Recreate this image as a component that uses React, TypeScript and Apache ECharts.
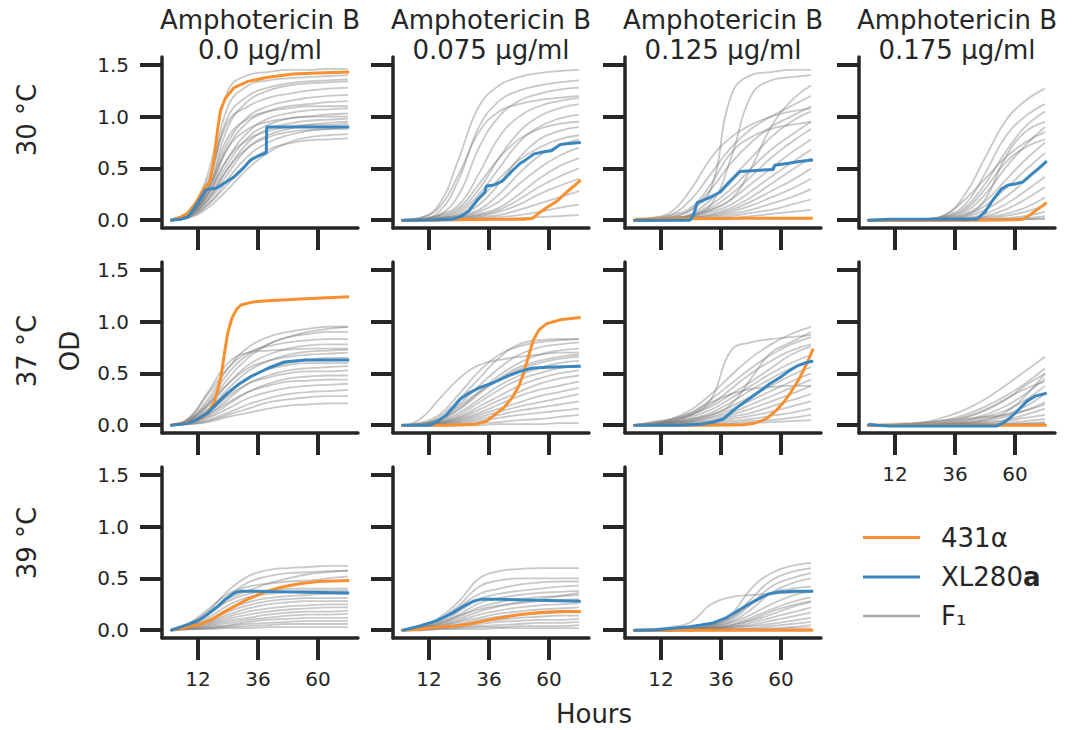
import React, { useEffect, useRef } from "react";
import * as echarts from "echarts";

const FONT = "DejaVu Sans";
const INK = "#262626";
const ORANGE = "#f8902f";
const BLUE = "#3a86bf";

const HOURS = [1, 8, 16, 24, 32, 40, 48, 56, 64, 72];
const TEMPS = ["30 °C", "37 °C", "39 °C"];
const DOSES = ["0.0", "0.075", "0.125", "0.175"];
const X_TICKS = [12, 36, 60];
const Y_TICKS = [0, 0.5, 1.0, 1.5];
const LEGEND_LABELS = ["431α", "XL280{b|a}", "F₁"];

// ---- F1 segregant curves (OD at HOURS) ----
const F1_30_000 = [
  [0, .08, .45, 1.25, 1.4, 1.43, 1.45, 1.45, 1.46, 1.46],
  [0, .06, .35, 1.1, 1.3, 1.35, 1.37, 1.38, 1.39, 1.40],
  [0, .05, .3, .9, 1.15, 1.25, 1.3, 1.32, 1.33, 1.34],
  [0, .07, .4, .95, 1.1, 1.18, 1.22, 1.25, 1.27, 1.28],
  [0, .05, .28, .75, 1.0, 1.1, 1.15, 1.18, 1.2, 1.21],
  [0, .04, .25, .7, .95, 1.05, 1.1, 1.12, 1.14, 1.15],
  [0, .06, .3, .8, .98, 1.05, 1.08, 1.1, 1.1, 1.1],
  [0, .05, .25, .6, .85, .98, 1.03, 1.06, 1.07, 1.08],
  [0, .04, .22, .55, .8, .92, .98, 1.0, 1.02, 1.03],
  [0, .05, .3, .7, .88, .95, .98, 1.0, 1.0, 1.0],
  [0, .04, .2, .5, .75, .88, .93, .96, .97, .98],
  [0, .03, .18, .45, .7, .82, .88, .92, .94, .95],
  [0, .05, .25, .6, .78, .86, .9, .92, .92, .93],
  [0, .03, .15, .4, .62, .75, .82, .86, .88, .9],
  [0, .04, .2, .5, .7, .8, .85, .87, .88, .88],
  [0, .02, .12, .3, .5, .65, .75, .8, .82, .83],
  [0, .03, .15, .35, .55, .68, .74, .77, .78, .79],
  [0, .06, .35, 1.0, 1.2, 1.28, 1.32, 1.34, 1.35, 1.36],
];
const F1_30_075 = [
  [0, .02, .15, .6, 1.1, 1.3, 1.38, 1.42, 1.44, 1.45],
  [0, .01, .08, .4, .9, 1.15, 1.25, 1.3, 1.33, 1.35],
  [0, .01, .05, .25, .7, 1.0, 1.15, 1.22, 1.26, 1.28],
  [0, .01, .05, .15, .45, .8, 1.0, 1.1, 1.15, 1.18],
  [0, .01, .03, .1, .3, .6, .85, 1.0, 1.08, 1.12],
  [0, 0, .02, .08, .25, .5, .75, .9, .98, 1.02],
  [0, .01, .04, .12, .35, .6, .78, .88, .93, .95],
  [0, 0, .02, .05, .15, .35, .6, .78, .86, .9],
  [0, 0, .02, .06, .2, .4, .58, .7, .78, .82],
  [0, 0, .01, .04, .1, .25, .45, .62, .72, .78],
  [0, 0, .01, .03, .08, .18, .35, .5, .62, .7],
  [0, 0, .01, .03, .06, .12, .25, .4, .52, .6],
  [0, 0, .01, .02, .05, .1, .2, .32, .42, .5],
  [0, 0, 0, .02, .04, .08, .15, .25, .33, .4],
  [0, 0, 0, .01, .03, .05, .1, .16, .22, .28],
  [0, 0, 0, .01, .02, .03, .05, .08, .12, .15],
  [0, .02, .12, .45, .85, 1.05, 1.12, 1.16, 1.18, 1.2],
  [0, 0, 0, 0, .01, .01, .02, .03, .04, .05],
];
const F1_30_125 = [
  [0, .01, .03, .1, .3, 1.2, 1.4, 1.43, 1.45, 1.45],
  [0, .01, .02, .05, .15, .6, 1.2, 1.35, 1.38, 1.4],
  [0, .02, .08, .3, .6, .8, .92, 1.0, 1.05, 1.08],
  [0, .01, .05, .2, .45, .7, .88, 1.0, 1.1, 1.2],
  [0, .01, .03, .1, .3, .55, .75, .9, 1.0, 1.1],
  [0, .01, .02, .06, .2, .4, .6, .8, .95, 1.05],
  [0, 0, .02, .05, .15, .3, .5, .68, .82, .95],
  [0, 0, .01, .04, .12, .25, .42, .6, .75, .88],
  [0, 0, .01, .03, .1, .2, .35, .5, .65, .78],
  [0, 0, .01, .03, .08, .15, .28, .42, .55, .68],
  [0, 0, .01, .02, .06, .12, .22, .35, .48, .6],
  [0, 0, .01, .02, .05, .1, .18, .28, .38, .5],
  [0, 0, 0, .02, .04, .08, .14, .22, .3, .4],
  [0, 0, 0, .01, .03, .06, .1, .16, .22, .3],
  [0, 0, 0, .01, .02, .04, .07, .1, .15, .2],
  [0, 0, 0, .01, .01, .02, .04, .06, .08, .1],
  [0, .01, .02, .04, .1, .2, .5, .9, 1.15, 1.3],
  [0, .02, .05, .12, .35, .65, .8, .88, .92, .95],
];
const F1_30_175 = [
  [0, 0, 0, .01, .05, .25, .6, .95, 1.15, 1.27],
  [0, 0, 0, .01, .04, .15, .45, .8, 1.0, 1.12],
  [0, 0, 0, 0, .03, .12, .35, .65, .9, 1.05],
  [0, 0, 0, .01, .05, .2, .4, .6, .75, .85],
  [0, 0, 0, 0, .02, .08, .25, .5, .72, .9],
  [0, 0, 0, 0, .02, .06, .18, .38, .58, .75],
  [0, 0, 0, 0, .01, .05, .14, .3, .48, .65],
  [0, 0, 0, 0, .01, .03, .1, .22, .38, .55],
  [0, 0, 0, 0, .01, .02, .06, .15, .28, .42],
  [0, 0, 0, 0, 0, .02, .04, .1, .2, .32],
  [0, 0, 0, 0, 0, .01, .03, .06, .12, .22],
  [0, 0, 0, 0, 0, .01, .02, .04, .08, .14],
  [0, 0, 0, 0, 0, 0, .01, .02, .04, .08],
  [0, 0, 0, 0, 0, 0, .01, .01, .02, .04],
  [0, 0, 0, 0, 0, 0, 0, .01, .01, .02],
  [0, 0, 0, .01, .03, .1, .3, .55, .7, .78],
  [0, 0, 0, 0, 0, 0, 0, 0, .01, .01],
  [0, 0, 0, 0, .01, .04, .2, .6, .85, .95],
];
const F1_37_000 = [
  [0, .05, .25, .55, .75, .85, .9, .93, .95, .95],
  [0, .04, .2, .45, .65, .78, .85, .88, .9, .9],
  [0, .06, .3, .55, .7, .76, .8, .82, .83, .83],
  [0, .04, .18, .4, .58, .68, .74, .77, .78, .78],
  [0, .03, .15, .35, .52, .62, .68, .71, .72, .73],
  [0, .04, .2, .4, .55, .62, .66, .68, .69, .7],
  [0, .03, .12, .3, .45, .55, .6, .63, .65, .65],
  [0, .03, .15, .32, .46, .54, .58, .6, .6, .6],
  [0, .02, .1, .25, .4, .48, .53, .55, .56, .57],
  [0, .03, .12, .28, .4, .46, .5, .52, .52, .53],
  [0, .02, .08, .2, .32, .4, .45, .47, .48, .48],
  [0, .02, .1, .22, .32, .38, .42, .43, .44, .44],
  [0, .02, .07, .16, .26, .32, .36, .38, .39, .4],
  [0, .01, .05, .12, .2, .26, .3, .32, .33, .34],
  [0, .01, .04, .1, .16, .22, .25, .27, .28, .28],
  [0, .01, .03, .08, .12, .16, .19, .2, .21, .21],
  [0, .06, .32, .6, .7, .72, .73, .74, .74, .74],
  [0, .05, .22, .5, .68, .78, .85, .9, .93, .95],
];
const F1_37_075 = [
  [0, .05, .25, .45, .58, .63, .66, .68, .7, .7],
  [0, .01, .08, .25, .45, .65, .78, .82, .83, .83],
  [0, .01, .06, .2, .38, .55, .68, .75, .78, .8],
  [0, .01, .05, .16, .32, .48, .6, .68, .72, .74],
  [0, .01, .06, .18, .32, .44, .54, .6, .64, .66],
  [0, 0, .04, .12, .25, .38, .48, .55, .6, .62],
  [0, 0, .03, .1, .22, .34, .44, .5, .55, .58],
  [0, 0, .03, .08, .18, .28, .38, .45, .5, .53],
  [0, 0, .02, .07, .15, .24, .32, .4, .45, .48],
  [0, 0, .02, .06, .12, .2, .28, .34, .38, .42],
  [0, 0, .02, .05, .1, .16, .22, .28, .32, .36],
  [0, 0, .01, .04, .08, .13, .18, .22, .26, .3],
  [0, 0, .01, .03, .06, .1, .14, .17, .2, .23],
  [0, 0, .01, .02, .04, .07, .1, .12, .14, .16],
  [0, 0, 0, .01, .02, .03, .05, .06, .08, .1],
  [0, 0, 0, 0, 0, .01, .01, .01, .02, .02],
  [0, .02, .1, .3, .52, .68, .76, .8, .82, .83],
  [0, .01, .05, .15, .3, .45, .56, .62, .66, .68],
];
const F1_37_125 = [
  [0, .01, .04, .1, .25, .72, .8, .83, .85, .87],
  [0, .02, .06, .15, .3, .48, .65, .78, .88, .95],
  [0, .01, .05, .12, .25, .4, .55, .68, .78, .85],
  [0, .01, .04, .1, .2, .35, .5, .62, .72, .78],
  [0, .02, .05, .1, .18, .3, .42, .55, .68, .76],
  [0, .01, .03, .08, .15, .26, .38, .5, .6, .68],
  [0, .01, .03, .06, .12, .22, .34, .45, .55, .62],
  [0, .01, .02, .05, .1, .18, .28, .38, .48, .56],
  [0, 0, .02, .04, .08, .15, .24, .33, .42, .5],
  [0, 0, .02, .04, .07, .12, .2, .28, .36, .44],
  [0, 0, .01, .03, .05, .1, .16, .23, .3, .38],
  [0, 0, .01, .02, .04, .08, .12, .18, .24, .3],
  [0, 0, .01, .02, .03, .06, .09, .13, .18, .23],
  [0, 0, 0, .01, .02, .04, .06, .09, .12, .16],
  [0, 0, 0, .01, .01, .02, .04, .05, .07, .1],
  [0, 0, 0, 0, .01, .01, .02, .03, .04, .05],
  [0, .03, .06, .12, .22, .3, .35, .37, .38, .38],
  [0, .01, .03, .06, .1, .2, .45, .7, .8, .9],
];
const F1_37_175 = [
  [0, 0, .01, .03, .08, .15, .25, .38, .52, .66],
  [0, 0, .01, .02, .05, .1, .18, .28, .4, .55],
  [0, 0, 0, .01, .03, .07, .14, .24, .38, .5],
  [0, 0, 0, .01, .02, .05, .1, .18, .3, .45],
  [0, 0, 0, 0, .02, .04, .08, .14, .24, .38],
  [0, 0, 0, 0, .01, .03, .06, .1, .18, .3],
  [0, 0, 0, 0, .01, .02, .04, .08, .14, .22],
  [0, 0, 0, 0, .01, .02, .03, .05, .1, .16],
  [0, 0, 0, 0, 0, .01, .02, .04, .07, .1],
  [0, 0, 0, 0, 0, .01, .01, .02, .04, .06],
  [0, 0, 0, 0, 0, 0, .01, .01, .02, .03],
  [0, 0, 0, 0, 0, 0, 0, .01, .01, .02],
  [0, .01, .02, .03, .05, .08, .15, .25, .35, .42],
  [0, 0, 0, 0, 0, 0, 0, 0, .01, .01],
  [0, 0, 0, 0, .01, .02, .05, .12, .28, .5],
  [0, 0, .01, .02, .04, .06, .08, .1, .14, .2],
];
const F1_39_000 = [
  [0, .06, .18, .38, .52, .58, .6, .61, .62, .62],
  [0, .05, .15, .32, .46, .52, .55, .56, .57, .57],
  [0, .06, .2, .35, .42, .45, .47, .48, .5, .52],
  [0, .05, .15, .28, .35, .38, .4, .4, .4, .4],
  [0, .04, .12, .24, .32, .35, .37, .38, .38, .38],
  [0, .04, .1, .2, .27, .31, .33, .34, .35, .35],
  [0, .03, .09, .18, .24, .28, .3, .31, .31, .31],
  [0, .03, .08, .15, .21, .25, .27, .28, .28, .28],
  [0, .03, .07, .13, .18, .21, .23, .24, .25, .25],
  [0, .02, .06, .11, .15, .18, .2, .21, .22, .22],
  [0, .02, .05, .09, .12, .15, .17, .18, .18, .19],
  [0, .02, .04, .07, .1, .12, .14, .15, .15, .16],
  [0, .01, .03, .05, .08, .1, .11, .12, .12, .12],
  [0, .01, .02, .04, .06, .07, .08, .09, .09, .09],
  [0, .01, .02, .03, .04, .05, .06, .06, .06, .06],
  [0, .01, .01, .02, .02, .03, .03, .03, .03, .03],
  [0, .05, .16, .3, .38, .45, .5, .54, .56, .58],
];
const F1_39_075 = [
  [0, .03, .12, .28, .5, .57, .59, .6, .6, .6],
  [0, .03, .1, .24, .42, .48, .5, .5, .5, .5],
  [0, .03, .1, .22, .35, .4, .44, .46, .47, .47],
  [0, .02, .08, .18, .3, .35, .38, .4, .42, .43],
  [0, .02, .07, .15, .26, .31, .34, .36, .37, .38],
  [0, .02, .06, .13, .22, .27, .3, .32, .33, .34],
  [0, .02, .05, .11, .18, .23, .26, .28, .29, .3],
  [0, .01, .04, .09, .15, .19, .22, .24, .25, .26],
  [0, .01, .04, .08, .12, .16, .18, .2, .21, .22],
  [0, .01, .03, .06, .1, .13, .15, .16, .17, .18],
  [0, .01, .03, .05, .08, .1, .12, .13, .14, .14],
  [0, .01, .02, .04, .06, .08, .09, .1, .1, .11],
  [0, .01, .02, .03, .04, .05, .06, .07, .07, .08],
  [0, 0, .01, .02, .03, .03, .04, .04, .04, .05],
  [0, 0, .01, .01, .01, .02, .02, .02, .02, .02],
  [0, .02, .06, .14, .2, .24, .27, .3, .33, .36],
];
const F1_39_125 = [
  [0, 0, .01, .02, .05, .15, .4, .55, .62, .65],
  [0, 0, .01, .02, .04, .12, .3, .48, .56, .6],
  [0, 0, .01, .02, .04, .1, .25, .42, .5, .55],
  [0, 0, 0, .01, .03, .08, .2, .36, .45, .5],
  [0, .01, .03, .08, .25, .32, .34, .35, .36, .37],
  [0, 0, 0, .01, .03, .07, .15, .25, .33, .38],
  [0, 0, 0, .01, .02, .05, .12, .2, .27, .32],
  [0, 0, 0, .01, .02, .04, .09, .15, .22, .27],
  [0, 0, 0, .01, .02, .03, .07, .12, .17, .22],
  [0, 0, 0, 0, .01, .03, .05, .09, .13, .17],
  [0, 0, 0, 0, .01, .02, .04, .06, .09, .12],
  [0, 0, 0, 0, .01, .01, .02, .04, .06, .08],
  [0, 0, 0, 0, 0, .01, .01, .02, .03, .05],
  [0, 0, 0, 0, 0, 0, .01, .01, .02, .02],
  [0, 0, .01, .02, .05, .12, .25, .36, .4, .42],
  [0, 0, 0, .01, .02, .05, .1, .18, .24, .28],
];

// ---- parental strains: [hour, OD] ----
const P431_30_000 = [[1, 0], [5, .03], [8, .07], [11, .16], [14.5, .31], [16, .35], [16.8, .37], [18.5, .61], [20, .9], [21, 1.06], [23, 1.18], [26.5, 1.28], [32, 1.34], [40, 1.38], [50, 1.41], [60, 1.42], [72.5, 1.43]];
const PXL_30_000 = [[1, 0], [5, .01], [8, .03], [12, .17], [15, .29], [16, .3], [19.5, .31], [22, .35], [26.5, .42], [30, .5], [33, .58], [36, .62], [39.3, .65], [39.5, .9], [72.5, .9]];
const P431_30_075 = [[1.5, 0], [20, .005], [40, .01], [50, .01], [53.5, .02], [56, .07], [59, .12], [63, .18], [67, .27], [70, .33], [72.7, .39]];
const PXL_30_075 = [[1.5, 0], [15, .005], [21.5, .01], [25, .04], [28, .09], [31.5, .2], [34.3, .27], [35, .33], [38, .34], [41.5, .38], [45, .47], [48.5, .55], [50, .57], [54, .64], [58, .66], [61, .67], [64.5, .73], [68, .74], [72.7, .75]];
const P431_30_125 = [[1.5, .01], [20, .015], [45, .02], [72.7, .02]];
const PXL_30_125 = [[1.6, 0], [23.6, 0], [25, .05], [26.5, .17], [28.5, .19], [31.6, .22], [35.6, .27], [39.5, .37], [43.6, .47], [50, .48], [56.9, .49], [57.5, .53], [63, .55], [68, .57], [72.8, .58]];
const P431_30_175 = [[1.3, 0], [40, 0], [60, .005], [63, .01], [66, .05], [68.7, .1], [72.7, .17]];
const PXL_30_175 = [[1.3, 0], [10, .01], [44.7, .01], [48, .08], [51.3, .2], [54.5, .3], [57.3, .34], [60, .35], [63.2, .37], [66, .43], [69.5, .5], [72.7, .57]];
const P431_37_000 = [[1.2, 0], [8, .03], [13.2, .07], [16, .12], [18.5, .22], [20, .35], [21.2, .47], [22.5, .68], [23.9, .89], [25.5, 1.03], [27.5, 1.12], [29.2, 1.16], [34, 1.19], [40, 1.2], [55, 1.22], [72.5, 1.24]];
const PXL_37_000 = [[1.2, 0], [7.9, .02], [12, .06], [15.9, .12], [20, .22], [23.9, .31], [28, .39], [33.2, .47], [40, .55], [46.5, .61], [55, .63], [72.5, .63]];
const P431_37_075 = [[1.5, 0], [20, 0], [31, .01], [35, .04], [37.7, .09], [42, .17], [45.7, .28], [48, .38], [49.8, .5], [52, .68], [53.7, .82], [56, .92], [59.1, .98], [65, 1.02], [72.7, 1.04]];
const PXL_37_075 = [[1.5, 0], [12.4, 0], [15, .03], [19, .1], [22, .18], [24.4, .25], [28, .31], [32, .36], [37.7, .41], [43, .47], [48.4, .52], [53, .55], [59, .56], [72.7, .57]];
const P431_37_125 = [[1.5, 0], [30, 0], [45, .005], [49.3, .02], [52, .04], [54.6, .07], [58, .14], [61.3, .23], [64, .32], [66.6, .42], [68.8, .52], [70.6, .61], [72.9, .74]];
const PXL_37_125 = [[1.5, 0], [20, 0], [28, .01], [32.9, .03], [36.9, .06], [42.3, .17], [47, .25], [51.6, .33], [55.5, .4], [59.6, .46], [63, .52], [66.3, .57], [69.5, .6], [72.9, .62]];
const P431_37_175 = [[1.3, 0], [36, 0], [72.7, 0]];
const PXL_37_175 = [[1.3, .01], [5, 0], [10, -.008], [30, -.008], [52.7, -.008], [55, .02], [58, .07], [61, .14], [64.7, .23], [68, .28], [72.7, .31]];
const P431_39_000 = [[1.2, 0], [6, .02], [13.2, .06], [18, .11], [22, .17], [26.5, .23], [32, .3], [36, .34], [39.9, .38], [46, .42], [53.2, .45], [60, .47], [72.5, .48]];
const PXL_39_000 = [[1.2, 0], [6, .04], [11.9, .09], [15, .14], [19.9, .23], [23, .3], [26.5, .36], [29, .375], [35, .375], [50, .37], [72.5, .36]];
const P431_39_075 = [[1.5, 0], [8, .01], [15, .03], [22, .04], [28.4, .06], [34, .09], [40.4, .12], [48, .15], [56.4, .17], [64, .18], [72.7, .18]];
const PXL_39_075 = [[1.5, 0], [8, .04], [15, .09], [21.7, .17], [25, .22], [29.7, .28], [33, .3], [40, .3], [55, .29], [72.7, .28]];
const P431_39_125 = [[1.6, 0], [36, 0], [72.9, 0]];
const PXL_39_125 = [[1.6, 0], [10, .005], [22.3, .03], [28, .05], [32.9, .07], [38, .12], [42.3, .18], [47, .25], [51.6, .31], [55, .35], [59.6, .37], [65, .375], [72.9, .375]];

const PANELS = [
  { row: 0, col: 0, f1: F1_30_000, a: P431_30_000, b: PXL_30_000 },
  { row: 0, col: 1, f1: F1_30_075, a: P431_30_075, b: PXL_30_075 },
  { row: 0, col: 2, f1: F1_30_125, a: P431_30_125, b: PXL_30_125 },
  { row: 0, col: 3, f1: F1_30_175, a: P431_30_175, b: PXL_30_175 },
  { row: 1, col: 0, f1: F1_37_000, a: P431_37_000, b: PXL_37_000 },
  { row: 1, col: 1, f1: F1_37_075, a: P431_37_075, b: PXL_37_075 },
  { row: 1, col: 2, f1: F1_37_125, a: P431_37_125, b: PXL_37_125 },
  { row: 1, col: 3, f1: F1_37_175, a: P431_37_175, b: PXL_37_175 },
  { row: 2, col: 0, f1: F1_39_000, a: P431_39_000, b: PXL_39_000 },
  { row: 2, col: 1, f1: F1_39_075, a: P431_39_075, b: PXL_39_075 },
  { row: 2, col: 2, f1: F1_39_125, a: P431_39_125, b: PXL_39_125 },
];

const COL_LEFT = [162, 393, 625, 859];
const ROW_TOP = [57, 262, 467];
const GRID_W = 196;
const GRID_H = 171;

function buildOption() {
  const grids: any[] = [];
  const xAxes: any[] = [];
  const yAxes: any[] = [];
  const series: any[] = [];
  const graphics: any[] = [];

  PANELS.forEach((p, i) => {
    grids.push({ left: COL_LEFT[p.col], top: ROW_TOP[p.row], width: GRID_W, height: GRID_H, containLabel: false });
    const showX = p.row === 2 || (p.row === 1 && p.col === 3);
    const showY = p.col === 0;
    xAxes.push({
      gridIndex: i, type: "value", min: -2.4, max: 76,
      axisLine: { show: true, onZero: false, lineStyle: { color: INK, width: 3.5 } },
      axisTick: { show: true, length: 22, customValues: X_TICKS, lineStyle: { color: INK, width: 4 } },
      axisLabel: { show: showX, customValues: X_TICKS, margin: 31, fontSize: 20, color: INK, fontFamily: FONT },
      splitLine: { show: false },
    });
    yAxes.push({
      gridIndex: i, type: "value", min: -0.075, max: 1.575,
      axisLine: { show: true, onZero: false, lineStyle: { color: INK, width: 3.5 } },
      axisTick: { show: true, length: 22, customValues: Y_TICKS, lineStyle: { color: INK, width: 4 } },
      axisLabel: { show: showY, customValues: Y_TICKS, margin: 33, fontSize: 20, color: INK, fontFamily: FONT, formatter: (v: number) => v.toFixed(1) },
      splitLine: { show: false },
    });
    p.f1.forEach((curve) => {
      series.push({
        type: "line", xAxisIndex: i, yAxisIndex: i, silent: true, symbol: "none",
        smooth: 0.45,
        lineStyle: { color: "rgba(125,125,125,0.42)", width: 1.8 },
        data: HOURS.map((h, k) => [h, curve[k]]),
      });
    });
    series.push({
      type: "line", xAxisIndex: i, yAxisIndex: i, silent: true, symbol: "none", smooth: false,
      lineStyle: { color: ORANGE, width: 3 }, data: p.a,
    });
    series.push({
      type: "line", xAxisIndex: i, yAxisIndex: i, silent: true, symbol: "none", smooth: false,
      lineStyle: { color: BLUE, width: 3 }, data: p.b,
    });
  });

  // column titles
  DOSES.forEach((d, c) => {
    const cx = COL_LEFT[c] + GRID_W / 2;
    graphics.push({ type: "text", x: cx, y: 20, style: { text: "Amphotericin B", fontSize: 26, fontFamily: FONT, fill: INK, align: "center", verticalAlign: "middle" } });
    graphics.push({ type: "text", x: cx, y: 50, style: { text: `${d} µg/ml`, fontSize: 26, fontFamily: FONT, fill: INK, align: "center", verticalAlign: "middle" } });
  });
  // row labels
  const rowY = [120, 351, 543];
  TEMPS.forEach((t, r) => {
    graphics.push({ type: "text", x: 27, y: rowY[r], rotation: Math.PI / 2, style: { text: t, fontSize: 26, fontFamily: FONT, fill: INK, align: "center", verticalAlign: "middle" } });
  });
  graphics.push({ type: "text", x: 70, y: 351, rotation: Math.PI / 2, style: { text: "OD", fontSize: 26, fontFamily: FONT, fill: INK, align: "center", verticalAlign: "middle" } });
  graphics.push({ type: "text", x: 594, y: 714, style: { text: "Hours", fontSize: 26, fontFamily: FONT, fill: INK, align: "center", verticalAlign: "middle" } });

  // legend
  const legColors = [ORANGE, BLUE, "#aaaaaa"];
  const legY = [537.5, 577, 616];
  LEGEND_LABELS.forEach((lab, k) => {
    graphics.push({ type: "line", shape: { x1: 863, y1: legY[k], x2: 920, y2: legY[k] }, style: { stroke: legColors[k], lineWidth: k === 2 ? 2.5 : 3 } });
    graphics.push({
      type: "text", x: 941, y: legY[k],
      style: {
        text: lab, fontSize: 26, fontFamily: FONT, fill: INK, align: "left", verticalAlign: "middle",
        rich: { b: { fontSize: 26, fontFamily: FONT, fontWeight: "bold", fill: INK } },
      },
    });
  });

  return {
    animation: false,
    backgroundColor: "#ffffff",
    grid: grids,
    xAxis: xAxes,
    yAxis: yAxes,
    series,
    graphic: graphics,
  };
}

export default function App() {
  const ref = useRef<HTMLDivElement>(null);
  useEffect(() => {
    if (!ref.current) return;
    const chart = echarts.init(ref.current, null, { renderer: "svg" });
    chart.setOption(buildOption() as any);
    return () => chart.dispose();
  }, []);
  return <div ref={ref} style={{ position: "absolute", left: 0, top: 0, width: 1075, height: 730, background: "#fff" }} />;
}
